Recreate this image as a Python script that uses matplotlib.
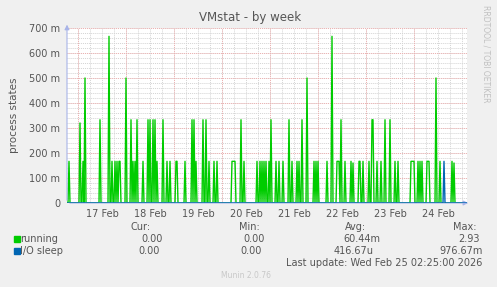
import pandas as pd
import matplotlib.pyplot as plt
from matplotlib.patches import Rectangle

# sample times (30 min steps) with non-zero values
running_times = [
    "02-16 19:30", "02-17 01:00", "02-17 02:30", "02-17 03:30", "02-17 11:00",
    "02-17 15:30", "02-17 17:00", "02-17 18:30", "02-17 19:30", "02-17 20:30",
    "02-17 21:00", "02-18 00:00", "02-18 02:30", "02-18 03:30", "02-18 04:30",
    "02-18 05:30", "02-18 08:30", "02-18 11:00", "02-18 12:00", "02-18 13:30",
    "02-18 14:30", "02-18 15:30", "02-18 18:30", "02-18 20:30", "02-18 22:00",
    "02-19 01:00", "02-19 01:30", "02-19 05:30", "02-19 09:00", "02-19 10:00",
    "02-19 11:00", "02-19 14:30", "02-19 16:00", "02-19 17:30", "02-19 20:00",
    "02-19 21:30", "02-20 05:00", "02-20 05:30", "02-20 06:00", "02-20 06:30",
    "02-20 09:30", "02-20 11:00", "02-20 17:30", "02-20 19:00", "02-20 20:00",
    "02-20 21:00", "02-20 22:00", "02-20 23:30", "02-21 00:30", "02-21 03:00",
    "02-21 04:30", "02-21 06:30", "02-21 09:30", "02-21 11:00", "02-21 13:30",
    "02-21 14:30", "02-21 16:00", "02-21 18:30", "02-21 22:00", "02-21 23:00",
    "02-22 00:00", "02-22 04:30", "02-22 07:00", "02-22 09:30", "02-22 10:00",
    "02-22 10:30", "02-22 11:30", "02-22 13:30", "02-22 16:30", "02-22 17:30",
    "02-22 20:30", "02-22 21:00", "02-22 22:30", "02-23 01:30", "02-23 03:00",
    "02-23 03:30", "02-23 05:30", "02-23 07:30", "02-23 09:30", "02-23 12:00",
    "02-23 14:30", "02-23 16:00", "02-23 22:30", "02-23 23:00", "02-23 23:30",
    "02-24 00:00", "02-24 02:00", "02-24 03:00", "02-24 04:00", "02-24 06:30",
    "02-24 07:00", "02-24 07:30", "02-24 11:00", "02-24 13:00", "02-24 19:00",
    "02-24 20:00",
]
running_vals = [
    0.1667, 0.32, 0.1667, 0.5, 0.333,
    0.6667, 0.1667, 0.1667, 0.1667, 0.1667,
    0.1667, 0.5, 0.333, 0.1667, 0.1667,
    0.333, 0.1667, 0.333, 0.333, 0.333,
    0.333, 0.1667, 0.333, 0.1667, 0.1667,
    0.1667, 0.1667, 0.1667, 0.333, 0.333,
    0.1667, 0.333, 0.333, 0.1667, 0.1667,
    0.1667, 0.1667, 0.1667, 0.1667, 0.1667,
    0.333, 0.1667, 0.1667, 0.1667, 0.1667,
    0.1667, 0.1667, 0.1667, 0.333, 0.1667,
    0.1667, 0.1667, 0.333, 0.1667, 0.1667,
    0.1667, 0.333, 0.5, 0.1667, 0.1667,
    0.1667, 0.1667, 0.6667, 0.1667, 0.1667,
    0.1667, 0.333, 0.1667, 0.1667, 0.16,
    0.1667, 0.1667, 0.1667, 0.1667, 0.333,
    0.333, 0.1667, 0.1667, 0.333, 0.333,
    0.1667, 0.1667, 0.1667, 0.1667, 0.1667,
    0.1667, 0.1667, 0.1667, 0.1667, 0.1667,
    0.1667, 0.1667, 0.5, 0.1667, 0.1667,
    0.16,
]
iosleep_times = ["02-24 15:00"]
iosleep_vals = [0.1667]

day_labels = ["17 Feb", "18 Feb", "19 Feb", "20 Feb", "21 Feb", "22 Feb", "23 Feb", "24 Feb"]
y_ticks = [0, 0.1, 0.2, 0.3, 0.4, 0.5, 0.6, 0.7]
y_labels = ["0", "100 m", "200 m", "300 m", "400 m", "500 m", "600 m", "700 m"]

legend_names = ["running", "I/O sleep"]
legend_colors = ["#00CC00", "#0066B3"]
cur_vals = ["0.00", "0.00"]
min_vals = ["0.00", "0.00"]
avg_vals = ["60.44m", "416.67u"]
max_vals = ["2.93", "976.67m"]

# time grid, hours relative to Feb 17 00:00
ref = pd.Timestamp("2026-02-17 00:00")
grid = pd.date_range("2026-02-16 18:30", "2026-02-25 02:30", freq="30min")


def build(times, vals):
    s = pd.Series(0.0, index=grid)
    for t, v in zip(times, vals):
        s[pd.Timestamp("2026-" + t)] = v
    return s


running = build(running_times, running_vals)
iosleep = build(iosleep_times, iosleep_vals)
hours = (grid - ref) / pd.Timedelta(hours=1)

W, H = 497, 287
fig = plt.figure(figsize=(W / 100, H / 100), dpi=100, facecolor="#F0F0F0")
ax = fig.add_axes([67 / W, (H - 203) / H, 400 / W, 175 / H], facecolor="white")

xmin, xmax = hours[0], hours[-1]
ax.set_xlim(xmin, xmax)
ax.set_ylim(0, 0.7)

dot = (0, (1, 1))
# minor grid
for y in [i * 0.02 for i in range(1, 36)]:
    ax.axhline(y, color="#d4d4d4", lw=0.7, ls=dot, zorder=0)
h = -6
while h < xmax:
    if h > xmin:
        ax.axvline(h, color="#d4d4d4", lw=0.7, ls=dot, zorder=0)
    h += 6
# major grid
for y in y_ticks[1:]:
    ax.axhline(y, color="#eeb0b0", lw=0.7, ls=dot, zorder=1)
for d in range(len(day_labels)):
    ax.axvline(d * 24, color="#eeb0b0", lw=0.7, ls=dot, zorder=1)

ax.plot(hours, running.values, color=legend_colors[0], lw=1.0, zorder=3)
ax.plot(hours, iosleep.values, color=legend_colors[1], lw=1.0, zorder=4)

ax.set_yticks(y_ticks)
ax.set_yticklabels(y_labels)
ax.set_xticks([d * 24 + 12 for d in range(len(day_labels))])
ax.set_xticklabels(day_labels)
ax.tick_params(axis="both", length=0, labelsize=7, colors="#555555")
ax.tick_params(axis="y", pad=5)
ax.tick_params(axis="x", pad=4)
for sp in ax.spines.values():
    sp.set_visible(False)

# axis lines with arrows
axis_col = "#a8b4e8"
ax.annotate("", xy=(1.01, 0), xycoords="axes fraction", xytext=(0, 0),
            arrowprops=dict(arrowstyle="-|>", color=axis_col, lw=0.8,
                            mutation_scale=7), annotation_clip=False)
ax.annotate("", xy=(0, 1.035), xycoords="axes fraction", xytext=(0, 0),
            arrowprops=dict(arrowstyle="-|>", color=axis_col, lw=0.8,
                            mutation_scale=7), annotation_clip=False)

txt = "#555555"
fig.text(250 / W, 1 - 18 / H, "VMstat - by week", ha="center", va="center",
         fontsize=8.5, color=txt)
fig.text(14 / W, 1 - 115 / H, "process states", rotation=90, ha="center",
         va="center", fontsize=7.5, color=txt)
fig.text(486 / W, 1 - 5 / H, "RRDTOOL / TOBI OETIKER", rotation=270,
         ha="center", va="top", fontsize=5.5, color="#c0c0c0")

# legend table
fs = 7
fig.text(151 / W, 1 - 227 / H, "Cur:", ha="right", va="center", fontsize=fs, color=txt)
fig.text(260 / W, 1 - 227 / H, "Min:", ha="right", va="center", fontsize=fs, color=txt)
fig.text(366 / W, 1 - 227 / H, "Avg:", ha="right", va="center", fontsize=fs, color=txt)
fig.text(477 / W, 1 - 227 / H, "Max:", ha="right", va="center", fontsize=fs, color=txt)
rows_y = [239, 251]
for i in range(2):
    y = 1 - rows_y[i] / H
    fig.patches.append(Rectangle((14 / W, y - 3 / H), 6 / W, 6 / H,
                                 transform=fig.transFigure, color=legend_colors[i]))
    fig.text(20 / W, y, legend_names[i], ha="left", va="center", fontsize=fs, color=txt)
    shift = 0 if i == 0 else 3
    fig.text((163 - shift) / W, y, cur_vals[i], ha="right", va="center", fontsize=fs, color=txt)
    fig.text((265 - shift) / W, y, min_vals[i], ha="right", va="center", fontsize=fs, color=txt)
    fig.text((380 - 6 * i) / W, y, avg_vals[i], ha="right", va="center", fontsize=fs, color=txt)
    fig.text((480 + 3 * i) / W, y, max_vals[i], ha="right", va="center", fontsize=fs, color=txt)

fig.text(482 / W, 1 - 263 / H, "Last update: Wed Feb 25 02:25:00 2026", ha="right",
         va="center", fontsize=fs, color=txt)
fig.text(246 / W, 1 - 275 / H, "Munin 2.0.76", ha="center", va="center",
         fontsize=5.5, color="#c8c8c8")

fig.savefig("out.png", dpi=100, facecolor=fig.get_facecolor())
